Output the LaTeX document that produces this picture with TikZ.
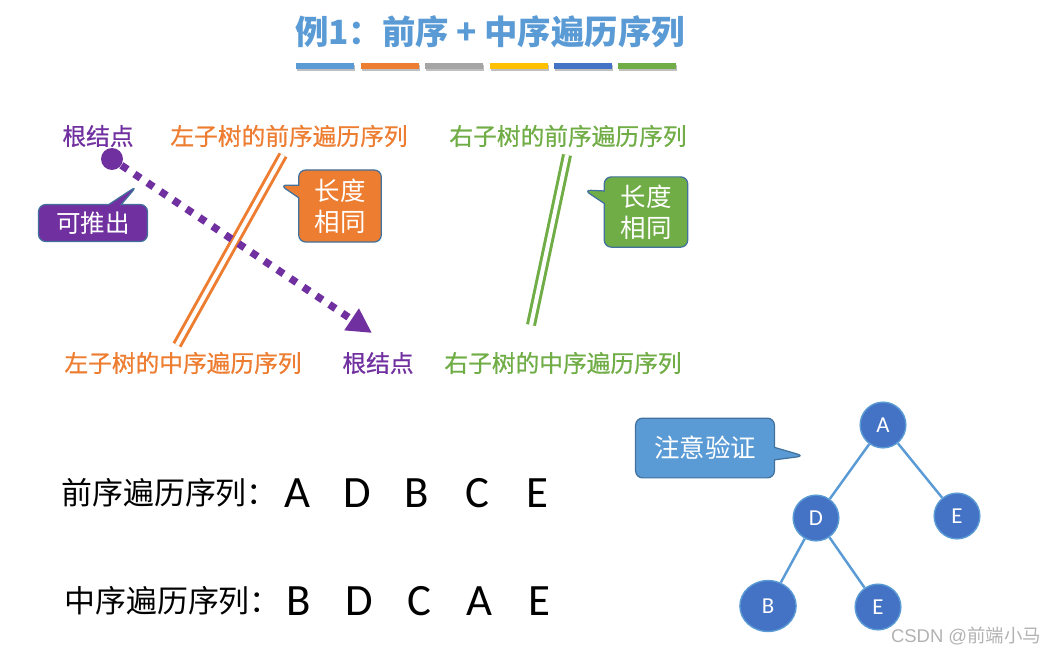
\documentclass[tikz,border=0pt]{standalone}
\usepackage{fontspec}
\setmainfont{Noto Sans CJK SC}
\newfontfamily\cjkmid[FakeBold=0.7]{Noto Sans CJK SC}
\newfontfamily\latin{Carlito}
\newfontfamily\wmfont{Liberation Sans}
\usepackage{tikz}
\usetikzlibrary{arrows.meta,shapes.callouts,shapes.geometric}

\definecolor{titleblue}{HTML}{5B9BD5}
\definecolor{barorange}{HTML}{ED7D31}
\definecolor{bargray}{HTML}{A5A5A5}
\definecolor{bargold}{HTML}{FFC000}
\definecolor{bardark}{HTML}{4472C4}
\definecolor{bargreen}{HTML}{70AD47}
\definecolor{rootpurple}{HTML}{7030A0}
\definecolor{bubbleline}{HTML}{41719C}

\tikzset{
	lbl/.style={inner sep=0pt, font=\cjkmid\fontsize{13.5}{15}\selectfont},
	bubble/.style={rectangle callout, draw=bubbleline, line width=0.7pt,
		rounded corners=4pt, text=white, inner sep=0pt, align=center,
		font=\fontsize{14.5}{17.6}\selectfont},
	seqlbl/.style={anchor=west, inner sep=0pt, font=\fontsize{17.6}{20}\selectfont},
	seqletter/.style={inner sep=0pt, font=\latin\fontsize{25.5}{26}\selectfont},
	tnode/.style={circle, fill=bardark, draw=titleblue, line width=0.8pt,
		minimum size=26pt, inner sep=0pt, text=white, font=\latin\fontsize{13}{13}\selectfont},
	tedge/.style={titleblue, line width=1.4pt},
	twin/.style={line width=1.7pt, double=white, double distance=2.3pt},
}

\begin{document}
\begin{tikzpicture}[x=0.02cm,y=-0.02cm]
	\useasboundingbox (0,0) rectangle (1050,653);
	
	% title and colour strip
	\node[font=\bfseries\fontsize{19}{20}\selectfont, text=titleblue] (title) at (490,32) {例1：前序 + 中序遍历序列};
	\foreach \c [count=\i] in {titleblue,barorange,bargray,bargold,bardark,bargreen}{
		\fill[black!25] ({233+64.4*\i},64.5) rectangle ++(58,6.5);
		\fill[\c] ({232+64.4*\i},63) rectangle ++(58,6);
	}
	
	% preorder row
	\node[lbl, text=rootpurple] (preroot) at (98,136) {根结点};
	\node[lbl, text=barorange] (preleft) at (289,136) {左子树的前序遍历序列};
	\node[lbl, text=bargreen] (preright) at (568,136) {右子树的前序遍历序列};
	
	% inorder row
	\node[lbl, text=barorange] (inleft) at (183,363) {左子树的中序遍历序列};
	\node[lbl, text=rootpurple] (inroot) at (378,363) {根结点};
	\node[lbl, text=bargreen] (inright) at (563,363) {右子树的中序遍历序列};
	
	% equal length marks
	\coordinate (ltop) at (283,155);
	\coordinate (lbot) at (177,345);
	\coordinate (rtop) at (567,155);
	\coordinate (rbot) at (531,325);
	\draw[twin, barorange] (ltop) -- (lbot);
	\draw[twin, bargreen] (rtop) -- (rbot);
	
	% root can be found
	\node[circle, fill=rootpurple, minimum size=12.5pt, inner sep=0pt] (dot) at (112,159) {};
	\coordinate (tip) at (372,333);
	\draw[rootpurple, line width=4.2pt, dash pattern=on 4.2pt off 4.7pt,
		-{Triangle[length=14pt,width=14pt]}] (dot) -- (tip);
	
	% callouts
	\node[bubble, fill=rootpurple, minimum width=62pt, minimum height=21pt,
		font=\fontsize{14}{16}\selectfont, callout absolute pointer={(137,186)}] (derive) at (93,223) {可推出};
	\node[bubble, fill=barorange, minimum width=47pt, minimum height=41pt,
		callout absolute pointer={(280,185)}] (lenl) at (340,206) {长度\\相同};
	\node[bubble, fill=bargreen, minimum width=47.5pt, minimum height=40pt,
		callout absolute pointer={(584,190)}] (lenr) at (646,212) {长度\\相同};
	\node[bubble, fill=titleblue, minimum width=79pt, minimum height=34pt,
		callout absolute pointer={(804,456)}] (check) at (705,448) {注意验证};
	
	% sequences
	\node[seqlbl] (prelbl) at (61,493) {前序遍历序列：};
	\foreach \l [count=\i] in {A,D,B,C,E}
		\node[seqletter] (pre\i) at ({237+60*\i},493) {\l};
	\node[seqlbl] (inlbl) at (64,601) {中序遍历序列：};
	\foreach \l [count=\i] in {B,D,C,A,E}
		\node[seqletter] (in\i) at ({239+60*\i},601) {\l};
	
	% tree
	\node[tnode] (A) at (883,425) {A};
	\node[tnode] (D) at (816,518) {D};
	\node[tnode] (E1) at (957,516) {E};
	\node[tnode, ellipse, minimum width=32pt, minimum height=29pt] (B) at (768,606) {B};
	\node[tnode] (E2) at (878,607) {E};
	\draw[tedge] (A) -- (D);
	\draw[tedge] (A) -- (E1);
	\draw[tedge] (D) -- (B);
	\draw[tedge] (D) -- (E2);
	
	\node[text=black!30, font=\wmfont\fontsize{10.5}{11}\selectfont] (wm) at (966,636) {CSDN @{\fontspec{Noto Sans CJK SC}前端小马}};
\end{tikzpicture}
\end{document}
